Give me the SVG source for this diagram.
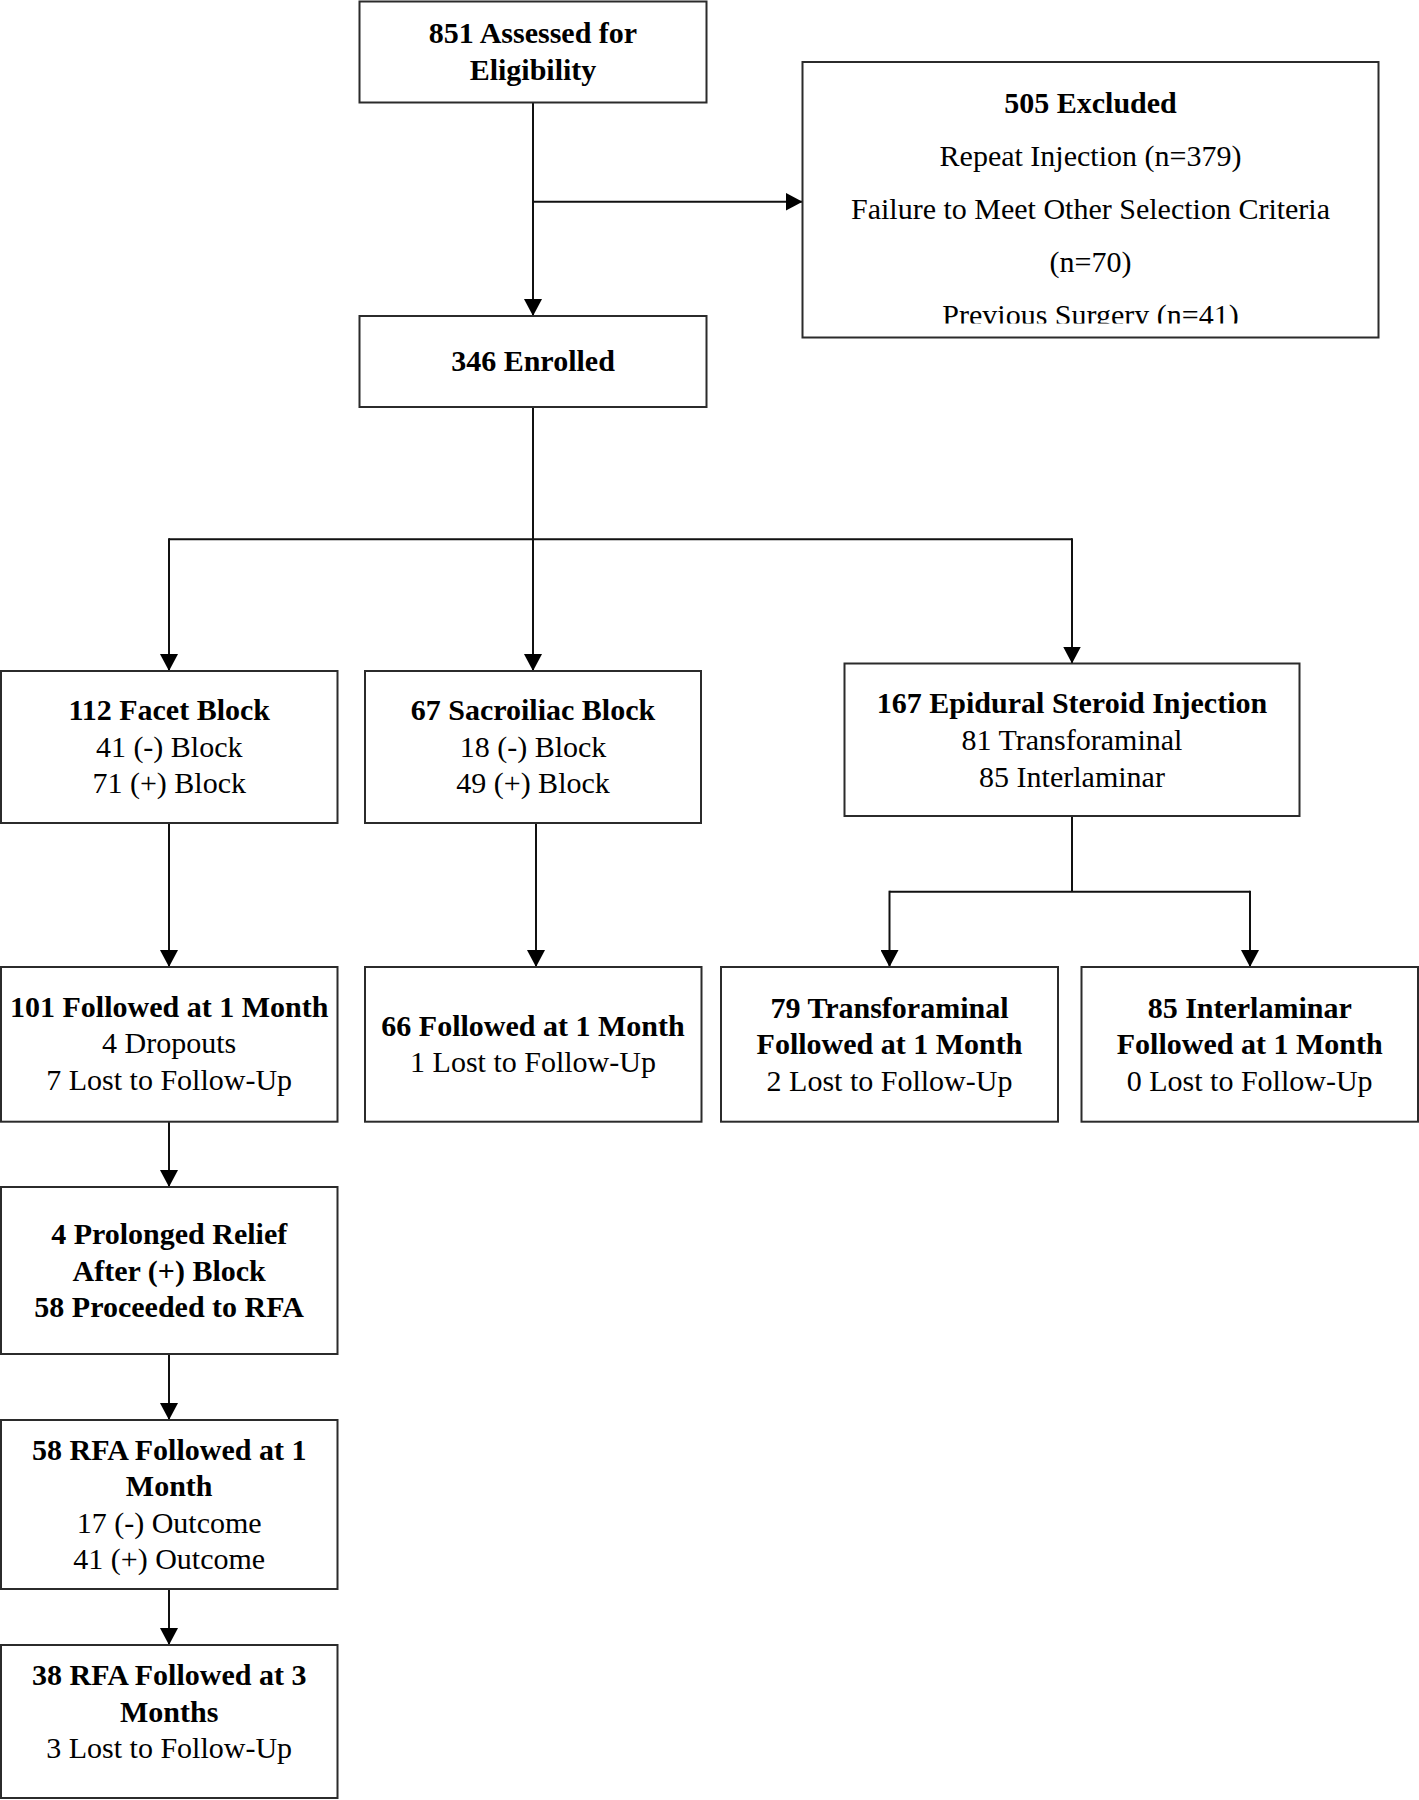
<svg xmlns="http://www.w3.org/2000/svg" width="1419" height="1800" viewBox="0 0 1419 1800">
<defs>
<style>
.box{fill:#fff;stroke:#2b2b2b;stroke-width:2}
.ln{fill:none;stroke:#111;stroke-width:2}
.arr{fill:none;stroke:#111;stroke-width:2;marker-end:url(#ah)}
text{font-family:"Liberation Serif","Times New Roman",serif;font-size:30px;fill:#000;text-anchor:middle}
.b{font-weight:bold}
</style>
<marker id="ah" markerUnits="userSpaceOnUse" markerWidth="18" markerHeight="18" refX="17" refY="9" orient="auto">
<path d="M0,0 L17,9 L0,18 Z" fill="#000"/>
</marker>
<clipPath id="exclip"><rect x="803" y="63" width="575" height="260.5"/></clipPath>
</defs>
<rect width="1419" height="1800" fill="#fff"/>

<g id="connectors">
<line class="arr" x1="533" y1="103" x2="533" y2="316"/>
<line class="arr" x1="533" y1="201.7" x2="802.5" y2="201.7"/>
<line class="ln" x1="533" y1="407" x2="533" y2="539.3"/>
<line class="ln" x1="169" y1="539.3" x2="1072" y2="539.3"/>
<line class="arr" x1="169" y1="538.3" x2="169" y2="671"/>
<line class="arr" x1="533" y1="539.3" x2="533" y2="671"/>
<line class="arr" x1="1072" y1="538.3" x2="1072" y2="663.5"/>
<line class="arr" x1="169" y1="823" x2="169" y2="967"/>
<line class="arr" x1="536" y1="823" x2="536" y2="967"/>
<line class="ln" x1="1072" y1="816" x2="1072" y2="891.7"/>
<line class="ln" x1="889.5" y1="891.7" x2="1250" y2="891.7"/>
<line class="arr" x1="889.5" y1="890.7" x2="889.5" y2="967"/>
<line class="arr" x1="1250" y1="890.7" x2="1250" y2="967"/>
<line class="arr" x1="169" y1="1121.7" x2="169" y2="1187"/>
<line class="arr" x1="169" y1="1354" x2="169" y2="1420"/>
<line class="arr" x1="169" y1="1589" x2="169" y2="1645"/>
</g>

<g id="assessed">
<rect class="box" x="359.5" y="1.5" width="347" height="101"/>
<text class="b" x="533" y="43.3">851 Assessed for</text>
<text class="b" x="533" y="80">Eligibility</text>
</g>

<g id="excluded">
<rect class="box" x="802.5" y="62" width="576" height="275.5"/>
<g clip-path="url(#exclip)">
<text class="b" x="1090.5" y="113.3">505 Excluded</text>
<text x="1090.5" y="166">Repeat Injection (n=379)</text>
<text x="1090.5" y="219.3">Failure to Meet Other Selection Criteria</text>
<text x="1090.5" y="271.7">(n=70)</text>
<text x="1090.5" y="325">Previous Surgery (n=41)</text>
</g>
</g>

<g id="enrolled">
<rect class="box" x="359.5" y="316" width="347" height="91"/>
<text class="b" x="533" y="371">346 Enrolled</text>
</g>

<g id="facet">
<rect class="box" x="1" y="671" width="336.5" height="152"/>
<text class="b" x="169.2" y="720">112 Facet Block</text>
<text x="169.2" y="756.7">41 (-) Block</text>
<text x="169.2" y="793.3">71 (+) Block</text>
</g>

<g id="sacroiliac">
<rect class="box" x="365" y="671" width="336" height="152"/>
<text class="b" x="533" y="720">67 Sacroiliac Block</text>
<text x="533" y="756.7">18 (-) Block</text>
<text x="533" y="793.3">49 (+) Block</text>
</g>

<g id="esi">
<rect class="box" x="844.5" y="663.5" width="455" height="152.5"/>
<text class="b" x="1072" y="713.3">167 Epidural Steroid Injection</text>
<text x="1072" y="750">81 Transforaminal</text>
<text x="1072" y="786.7">85 Interlaminar</text>
</g>

<g id="facet-1m">
<rect class="box" x="1" y="967" width="336.5" height="154.7"/>
<text class="b" x="169.2" y="1017.3">101 Followed at 1 Month</text>
<text x="169.2" y="1053.3">4 Dropouts</text>
<text x="169.2" y="1090">7 Lost to Follow-Up</text>
</g>

<g id="si-1m">
<rect class="box" x="365" y="967" width="336.5" height="154.7"/>
<text class="b" x="533" y="1036">66 Followed at 1 Month</text>
<text x="533" y="1071.7">1 Lost to Follow-Up</text>
</g>

<g id="tf-1m">
<rect class="box" x="721" y="967" width="337" height="154.7"/>
<text class="b" x="889.5" y="1018">79 Transforaminal</text>
<text class="b" x="889.5" y="1054">Followed at 1 Month</text>
<text x="889.5" y="1090.5">2 Lost to Follow-Up</text>
</g>

<g id="il-1m">
<rect class="box" x="1081.5" y="967" width="336.5" height="154.7"/>
<text class="b" x="1249.7" y="1018">85 Interlaminar</text>
<text class="b" x="1249.7" y="1054">Followed at 1 Month</text>
<text x="1249.7" y="1090.5">0 Lost to Follow-Up</text>
</g>

<g id="prolonged">
<rect class="box" x="1" y="1187" width="336.5" height="167"/>
<text class="b" x="169.2" y="1244">4 Prolonged Relief</text>
<text class="b" x="169.2" y="1280.7">After (+) Block</text>
<text class="b" x="169.2" y="1316.7">58 Proceeded to RFA</text>
</g>

<g id="rfa-1m">
<rect class="box" x="1" y="1420" width="336.5" height="169"/>
<text class="b" x="169.2" y="1460">58 RFA Followed at 1</text>
<text class="b" x="169.2" y="1496">Month</text>
<text x="169.2" y="1533.3">17 (-) Outcome</text>
<text x="169.2" y="1569.3">41 (+) Outcome</text>
</g>

<g id="rfa-3m">
<rect class="box" x="1" y="1645" width="336.5" height="153"/>
<text class="b" x="169.2" y="1685">38 RFA Followed at 3</text>
<text class="b" x="169.2" y="1721.7">Months</text>
<text x="169.2" y="1758.3">3 Lost to Follow-Up</text>
</g>
</svg>
